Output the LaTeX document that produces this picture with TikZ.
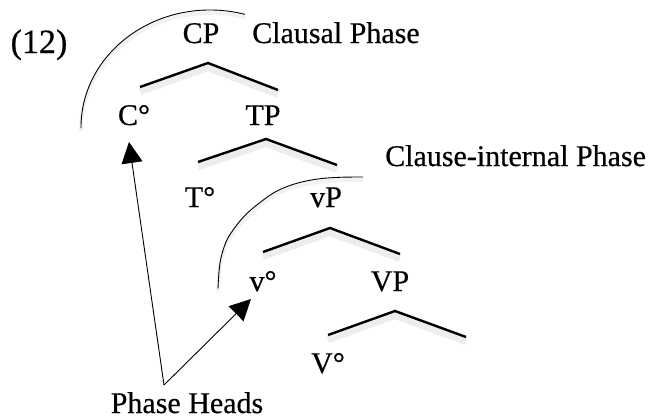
\documentclass[tikz,border=0pt]{standalone}
\usepackage{fontspec}
\setmainfont{Liberation Serif}[FakeBold=0.5]
\usetikzlibrary{arrows.meta}
\begin{document}
\begin{tikzpicture}[x=1pt,y=-1pt,
  lbl/.style={anchor=base, inner sep=0pt, font=\fontsize{30}{32}\selectfont},
  lblw/.style={lbl, anchor=base west},
  branch/.style={line width=2.4pt, line cap=butt, line join=miter,
    preaction={draw=black, draw opacity=0.07, line width=7pt, transform canvas={yshift=-4.5pt}}},
  phase/.style={line width=0.9pt,
    preaction={draw=black, draw opacity=0.05, line width=4pt, transform canvas={yshift=-3pt}}},
  ptr/.style={line width=0.9pt, -{Triangle[length=21pt,width=21pt]}}]
\useasboundingbox (0,0) rectangle (657,418);
% branch points
\coordinate (cpL) at (140,87); \coordinate (cpA) at (208,63); \coordinate (cpR) at (278,90);
\coordinate (tpL) at (198,162); \coordinate (tpA) at (266,139); \coordinate (tpR) at (337,165);
\coordinate (vpL) at (263,252); \coordinate (vpA) at (330,228); \coordinate (vpR) at (400,254);
\coordinate (VPL) at (328,335); \coordinate (VPA) at (395,311); \coordinate (VPR) at (466,337);
\draw[branch] (cpL) -- (cpA) -- (cpR);
\draw[branch] (tpL) -- (tpA) -- (tpR);
\draw[branch] (vpL) -- (vpA) -- (vpR);
\draw[branch] (VPL) -- (VPA) -- (VPR);
% phase arcs
\coordinate (arc1) at (81.0,128.2);
\draw[phase] (arc1) arc[start angle=180.5, end angle=74.3, x radius=129pt, y radius=117.2pt];
\draw[phase] plot[smooth, tension=0.6] coordinates {(218,288.5) (220,263) (226,242) (236,226) (247,213.5) (260,202.5) (276,191.5) (296,183.5) (318,179) (340,177.3) (363,177)};
% pointers
\coordinate (ph) at (164,385);
\coordinate (tipC) at (129,142);
\coordinate (tipv) at (251,299);
\draw[ptr] (ph) -- (tipC);
\draw[ptr] (ph) -- (tipv);
% labels
\node[lbl, font=\fontsize{34}{36}\selectfont] (ex) at (39,53) {(12)};
\node[lbl] (cp) at (201,43) {CP};
\node[lblw] (clausal) at (252,43) {Clausal Phase};
\node[lbl] (c0) at (134,125) {C°};
\node[lbl] (tp) at (263,125) {TP};
\node[lbl] (t0) at (200,207) {T°};
\node[lbl] (vp) at (326,207) {vP};
\node[lblw] (cint) at (385,166) {Clause-internal Phase};
\node[lbl] (v0) at (263,291) {v°};
\node[lbl] (VP) at (390,291) {VP};
\node[lbl] (V0) at (328,373) {V°};
\node[lbl] (heads) at (187,413) {Phase Heads};
\end{tikzpicture}
\end{document}
